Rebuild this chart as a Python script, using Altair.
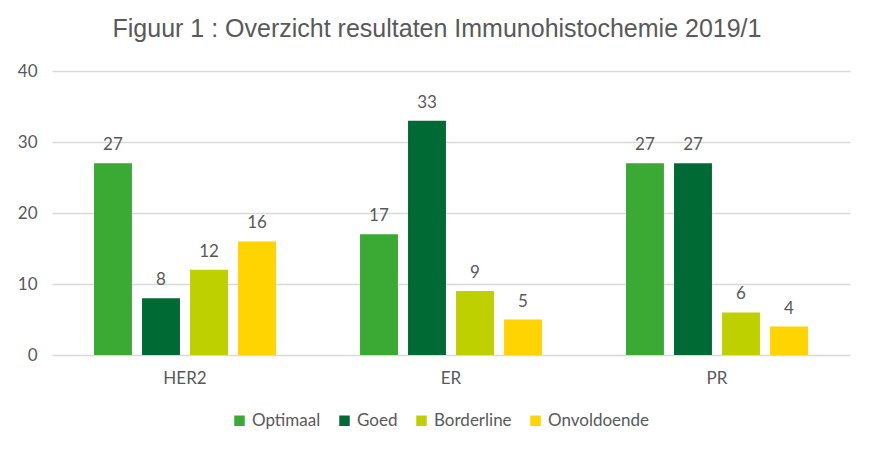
import altair as alt
import pandas as pd

categories = ["HER2", "ER", "PR"]
series = ["Optimaal", "Goed", "Borderline", "Onvoldoende"]
values = {
    "Optimaal": [27, 17, 27],
    "Goed": [8, 33, 27],
    "Borderline": [12, 9, 6],
    "Onvoldoende": [16, 5, 4],
}
colors = ["#3BAA34", "#006A35", "#BFD000", "#FFD400"]

rows = []
for s in series:
    for c, v in zip(categories, values[s]):
        rows.append({"Categorie": c, "Reeks": s, "Waarde": v})
df = pd.DataFrame(rows)

FONT = "Lato"
GREY = "#595959"

base = alt.Chart(df).encode(
    x=alt.X("Categorie:N", sort=categories,
            scale=alt.Scale(paddingInner=0.278, paddingOuter=0.139),
            axis=alt.Axis(title=None, labelAngle=0, ticks=False, domain=False,
                          labelFont=FONT, labelFontSize=17, labelColor=GREY,
                          labelPadding=15)),
    xOffset=alt.XOffset("Reeks:N", sort=series,
                        scale=alt.Scale(paddingInner=0.21, paddingOuter=0.105)),
)

bars = base.mark_bar().encode(
    y=alt.Y("Waarde:Q", scale=alt.Scale(domain=[0, 40]),
            axis=alt.Axis(title=None, values=[0, 10, 20, 30, 40], ticks=False,
                          domain=False, gridColor="#D9D9D9", gridWidth=1.3,
                          labelFont=FONT, labelFontSize=17, labelColor=GREY,
                          labelPadding=15)),
    color=alt.Color("Reeks:N", sort=series,
                    scale=alt.Scale(domain=series, range=colors),
                    legend=alt.Legend(title=None, orient="none", direction="horizontal",
                                      legendX=179, legendY=341,
                                      symbolType="square", symbolSize=110,
                                      symbolStrokeWidth=0, labelFont=FONT,
                                      labelFontSize=17, labelColor=GREY,
                                      labelOffset=4, columnPadding=15)),
)

text = base.mark_text(baseline="bottom", dy=-9, font=FONT, fontSize=17,
                      color=GREY).encode(
    y=alt.Y("Waarde:Q"),
    text=alt.Text("Waarde:Q"),
)

chart = alt.layer(bars, text).properties(
    width=798,
    height=284,
    autosize=alt.AutoSizeParams(type="none"),
    padding={"left": 44, "top": 63, "right": 15, "bottom": 89},
    title=alt.TitleParams("Figuur 1 : Overzicht resultaten Immunohistochemie 2019/1",
                          font="Liberation Sans", fontSize=25,
                          fontWeight="normal",
                          color=GREY, anchor="middle", dx=-14, offset=20),
).configure_view(stroke=None)

chart.save("out.html", embed_options={"renderer": "svg", "actions": False})
